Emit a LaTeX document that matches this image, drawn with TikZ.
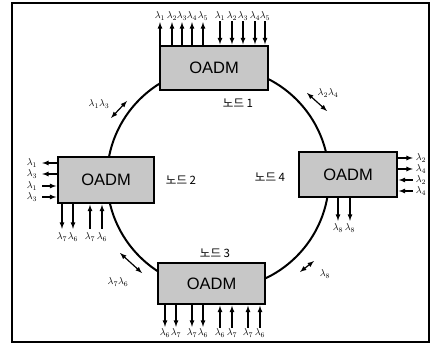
\documentclass[tikz,border=0pt]{standalone}
\usepackage{amsmath}
\usepackage{fontspec}
\newfontfamily\krfont{Noto Sans CJK KR}
\newfontfamily\boxfont{Liberation Sans}
\usepackage{tikz}
\usetikzlibrary{calc, positioning}

\tikzset{
    oadm/.style={draw=black, line width=1.4pt, fill=black!22, inner sep=0pt,
        font=\boxfont\fontsize{16.5}{16.5}\selectfont},
    lam/.style={inner sep=0.8pt, font=\normalsize},
    nodelbl/.style={inner sep=0pt, font=\krfont\fontsize{11.5}{11.5}\selectfont},
    wdm/.style={line width=1.2pt, shorten >=1pt}
}

\begin{document}
\begin{tikzpicture}[>=latex, x=1pt, y=-1pt]
    \useasboundingbox (0,0) rectangle (433,347);
    % 1. Khung ngoài
    \draw[line width=1.1pt] (12,3) rectangle (429,342);

    % 2. Vòng quang
    \draw[line width=2pt] (218,178) circle[radius=111];

    % 3. Bốn khối OADM
    \node[oadm, minimum width=108, minimum height=44] (b1) at (214,68) {OADM};
    \node[oadm, minimum width=96, minimum height=46] (b2) at (106,180) {OADM};
    \node[oadm, minimum width=98, minimum height=45] (b4) at (348,174.5) {OADM};
    \node[oadm, minimum width=107, minimum height=41] (b3) at (211.5,283.5) {OADM};

    % 4. Nhãn nút
    \node[nodelbl] (n1) at (238,103) {노드 1};
    \node[nodelbl] (n2) at (181,180) {노드 2};
    \node[nodelbl] (n4) at (270,177) {노드 4};
    \node[nodelbl] (n3) at (215,253) {노드 3};

    % 5. Nút 1: tách và ghép phía trên
    \foreach \x/\s [count=\i] in {160/1,172/2,182/3,192/4,203/5} {
        \node[lam] (d1\i) at (\x,16) {$\lambda_{\s}$};
        \draw[wdm, ->] (d1\i |- b1.north) -- (d1\i.south);
    }
    \foreach \x/\s [count=\i] in {220/1,232/2,243/3,255/4,265/5} {
        \node[lam] (a1\i) at (\x,16) {$\lambda_{\s}$};
        \draw[wdm, ->] (a1\i.south) -- (a1\i |- b1.north);
    }

    % 6. Nút 2: bên trái và phía dưới
    \foreach \y/\s [count=\i] in {163/1,174/3} {
        \node[lam] (d2\i) at (32,\y) {$\lambda_{\s}$};
        \draw[wdm, ->, shorten >=4pt] (b2.west |- d2\i) -- (d2\i.east);
    }
    \foreach \y/\s [count=\i] in {186/1,197/3} {
        \node[lam] (a2\i) at (32,\y) {$\lambda_{\s}$};
        \draw[wdm, ->, shorten <=4pt] (a2\i.east) -- (b2.west |- a2\i);
    }
    \foreach \x/\s [count=\i] in {62/7,73/6} {
        \node[lam] (e2\i) at (\x,237) {$\lambda_{\s}$};
        \draw[wdm, ->, shorten >=3pt] (e2\i |- b2.south) -- (e2\i.north);
    }
    \foreach \x/\s [count=\i] in {90/7,102/6} {
        \node[lam] (f2\i) at (\x,237) {$\lambda_{\s}$};
        \draw[wdm, ->, shorten <=3pt] (f2\i.north) -- (f2\i |- b2.south);
    }

    % 7. Nút 4: bên phải và phía dưới
    \foreach \y/\s [count=\i] in {158/2,169/4} {
        \node[lam] (d4\i) at (421,\y) {$\lambda_{\s}$};
        \draw[wdm, ->, shorten >=2pt] (b4.east |- d4\i) -- (d4\i.west);
    }
    \foreach \y/\s [count=\i] in {180/2,191/4} {
        \node[lam] (a4\i) at (421,\y) {$\lambda_{\s}$};
        \draw[wdm, ->, shorten <=2pt] (a4\i.west) -- (b4.east |- a4\i);
    }
    \foreach \x/\s [count=\i] in {338/8,350/8} {
        \node[lam] (e4\i) at (\x,228) {$\lambda_{\s}$};
        \draw[wdm, ->, shorten >=2pt] (e4\i |- b4.south) -- (e4\i.north);
    }

    % 8. Nút 3: phía dưới
    \foreach \x/\s [count=\i] in {165/6,176/7,192/7,203/6} {
        \node[lam] (d3\i) at (\x,333) {$\lambda_{\s}$};
        \draw[wdm, ->] (d3\i |- b3.south) -- (d3\i.north);
    }
    \foreach \x/\s [count=\i] in {220/6,232/7,248/7,260/6} {
        \node[lam] (a3\i) at (\x,333) {$\lambda_{\s}$};
        \draw[wdm, ->] (a3\i.north) -- (a3\i |- b3.south);
    }

    % 9. Bước sóng trên vòng (mũi tên hai đầu)
    \coordinate (p12) at (111,118);  \coordinate (q12) at (127,101);
    \draw[line width=1.2pt, <->] (p12) -- (q12);
    \node[lam] (r12) at (99,104) {$\lambda_1\lambda_3$};

    \coordinate (p14) at (307,93);   \coordinate (q14) at (327,111);
    \draw[line width=1.2pt, <->] (p14) -- (q14);
    \node[lam] (r14) at (328,93) {$\lambda_2\lambda_4$};

    \coordinate (p23) at (120,253);  \coordinate (q23) at (142,273);
    \draw[line width=1.2pt, <->] (p23) -- (q23);
    \node[lam] (r23) at (118,282) {$\lambda_7\lambda_6$};

    \coordinate (p34) at (300,272);  \coordinate (q34) at (314,261);
    \draw[line width=1.2pt, <->] (p34) -- (q34);
    \node[lam] (r34) at (325,274) {$\lambda_8$};
\end{tikzpicture}
\end{document}
